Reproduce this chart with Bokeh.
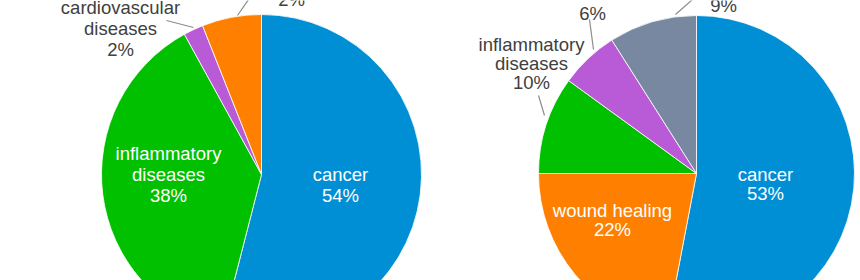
import numpy as np
from bokeh.plotting import figure
from bokeh.models import Range1d, ColumnDataSource
from bokeh.core.properties import value
from bokeh.embed import file_html
from bokeh.resources import INLINE

# ---------------- data ----------------
left_categories = ["cancer", "inflammatory diseases", "cardiovascular diseases", "wound healing"]
left_values = [54, 38, 2, 6]
left_pct_labels = ["54%", "38%", "2%", "2%"]

right_categories = ["cancer", "wound healing", "inflammatory diseases", "cardiovascular diseases", "other"]
right_values = [53, 22, 10, 6, 9]
right_pct_labels = ["53%", "22%", "10%", "6%", "9%"]

# ---------------- styles / layout ----------------
W, H = 860, 280
colors = {
    "cancer": "#008FD5",
    "inflammatory diseases": "#00C000",
    "cardiovascular diseases": "#B95AD6",
    "wound healing": "#FF8000",
    "other": "#7788A0",
}
FONT = "Liberation Sans"
FSIZE = "18.5px"
DARK = "#404040"

# label layout (screen px): position of the percentage line, visible name lines, inside?
left_layout = {
    "center": (261, 174), "radius": 160, "spacing": 21,
    "labels": {
        "cancer": ((340, 195), ["cancer"], True),
        "inflammatory diseases": ((168, 195), ["inflammatory", "diseases"], True),
        "cardiovascular diseases": ((120, 49), ["cardiovascular", "diseases"], False),
        "wound healing": ((291, -1), [], False),
    },
    "leaders": [((193, 27), (166, 20)), ((237, 15), (248, -1))],
}
right_layout = {
    "center": (696, 173), "radius": 158, "spacing": 19,
    "labels": {
        "cancer": ((765, 193), ["cancer"], True),
        "wound healing": ((612, 229), ["wound healing"], True),
        "inflammatory diseases": ((531, 82), ["inflammatory", "diseases"], False),
        "cardiovascular diseases": ((592, 13), [], False),
        "other": ((723, 5), [], False),
    },
    "leaders": [((544, 115), (538, 95)), ((593, 49), (589, 19)), ((675, 14), (692, -1))],
}


def Y(y):
    return H - y


p = figure(width=W, height=H, x_range=Range1d(0, W), y_range=Range1d(0, H),
           output_backend="svg", toolbar_location=None, min_border=0)
p.axis.visible = False
p.grid.visible = False
p.outline_line_color = None
p.background_fill_color = "white"
p.border_fill_color = "white"


def draw_pie(cats, vals, pcts, lay):
    vals = np.array(vals, dtype=float)
    frac = vals / vals.sum()
    cum_end = np.cumsum(frac)
    cum_start = cum_end - frac
    cx, cy = lay["center"]
    src = ColumnDataSource(dict(
        x=[cx] * len(cats), y=[Y(cy)] * len(cats),
        start=list(np.pi / 2 - 2 * np.pi * cum_start),
        end=list(np.pi / 2 - 2 * np.pi * cum_end),
        color=[colors[c] for c in cats],
    ))
    p.wedge(x="x", y="y", radius=lay["radius"], start_angle="start", end_angle="end",
            direction="clock", fill_color="color", line_color="white", line_width=0.8,
            source=src)
    # leader lines
    for (x0, y0), (x1, y1) in lay["leaders"]:
        p.segment(x0=[x0], y0=[Y(y0)], x1=[x1], y1=[Y(y1)], line_color="#8C8C8C", line_width=1.2)
    # labels
    tx, ty, tt, tc = [], [], [], []
    for c, pct in zip(cats, pcts):
        (lx, ly), names, inside = lay["labels"][c]
        lines = names + [pct]
        n = len(lines)
        for i, t in enumerate(lines):
            tx.append(lx)
            ty.append(Y(ly - (n - 1 - i) * lay["spacing"]))
            tt.append(t)
            tc.append("white" if inside else DARK)
    p.text(x=tx, y=ty, text=tt, text_color=tc, text_align="center", text_baseline="middle",
           text_font=value(FONT), text_font_size=FSIZE)


draw_pie(left_categories, left_values, left_pct_labels, left_layout)
draw_pie(right_categories, right_values, right_pct_labels, right_layout)

open("out.html", "w").write(file_html(p, INLINE))
